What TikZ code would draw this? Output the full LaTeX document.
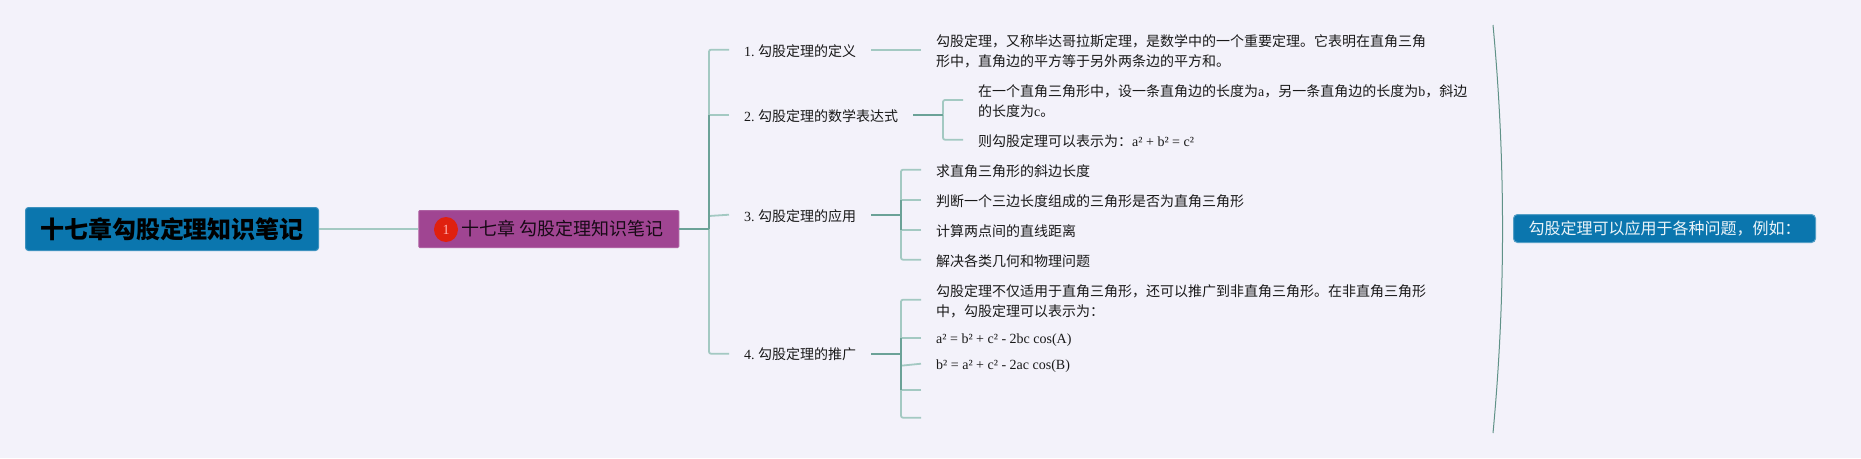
\documentclass[tikz,border=0pt]{standalone}
\usepackage{fontspec}
\usepackage{tikz}
\usetikzlibrary{shapes.geometric}
\setmainfont{Liberation Serif}
\newfontfamily\cjk{Noto Sans CJK SC}
\frenchspacing
\definecolor{pagebg}{HTML}{F3F2FA}
\definecolor{wirelight}{HTML}{A3C9C2}
\definecolor{wiredark}{HTML}{6BA297}
\definecolor{boxblue}{HTML}{0B76AE}
\definecolor{boxpurple}{HTML}{A04592}
\definecolor{badgered}{HTML}{E0200F}
\tikzset{
  branch/.style={draw=wirelight, line width=1.8pt, rounded corners=2pt},
  stem/.style={draw=wiredark, line width=2pt},
  rootbox/.style={draw=boxblue!80!white, fill=boxblue, rounded corners=3pt, line width=1pt, minimum width=293pt, minimum height=43pt, inner sep=0pt, font=\cjk\bfseries\fontsize{24}{28}\selectfont},
  topicbox/.style={draw=boxpurple!85!white, fill=boxpurple, rounded corners=1pt, line width=1pt, minimum width=260pt, minimum height=37pt, inner sep=0pt, text=black!85!boxpurple, font=\cjk\fontsize{18}{22}\selectfont},
  notebox/.style={draw=boxblue!70!white, fill=boxblue, rounded corners=4pt, line width=1pt, minimum width=302pt, minimum height=28pt, inner sep=0pt, text=white!92!boxblue, font=\cjk\fontsize{16}{20}\selectfont},
  badge/.style={ellipse, fill=badgered, minimum width=24pt, minimum height=25pt, inner sep=0pt, text=red!30!white, font=\fontsize{14}{16}\selectfont},
  topic/.style={anchor=west, inner xsep=15pt, inner ysep=0pt, text=black!90, align=left, font=\fontsize{14}{20}\selectfont},
}

\begin{document}
\begin{tikzpicture}[
  x=1pt,
  y=-1pt
]
\useasboundingbox (0,0) rectangle (1861,458);
\fill[pagebg] (0,0) rectangle (1861,458);

\node[rootbox] (root) at (172,229) {十七章勾股定理知识笔记};
\node[topicbox] (main) at (548.75,229) {\hspace{27.5pt}十七章 勾股定理知识笔记};
\node[badge] (mark) at (446,229.5) {1};
\node[notebox] (note) at (1664.5,228.5) {勾股定理可以应用于各种问题，例如：};

\node[topic] (def) at (729,51) {1. {\cjk 勾股定理的定义}};
\node[topic] (formula) at (729,116) {2. {\cjk 勾股定理的数学表达式}};
\node[topic] (usage) at (729,216) {3. {\cjk 勾股定理的应用}};
\node[topic] (ext) at (729,354.3) {4. {\cjk 勾股定理的推广}};

\node[topic] (defa) at (921,51.7) {{\cjk 勾股定理，又称毕达哥拉斯定理，是数学中的一个重要定理。它表明在直角三角}\\{\cjk 形中，直角边的平方等于另外两条边的平方和。}};
\node[topic] (forma) at (963,101) {{\cjk 在一个直角三角形中，设一条直角边的长度为}a{\cjk ，另一条直角边的长度为}b{\cjk ，斜边}\\{\cjk 的长度为}c{\cjk 。}};
\node[topic] (formb) at (963,140.7) {{\cjk 则勾股定理可以表示为：}a² + b² = c²};
\node[topic] (usea) at (921,170.7) {{\cjk 求直角三角形的斜边长度}};
\node[topic] (useb) at (921,200.7) {{\cjk 判断一个三边长度组成的三角形是否为直角三角形}};
\node[topic] (usec) at (921,230.7) {{\cjk 计算两点间的直线距离}};
\node[topic] (used) at (921,260.7) {{\cjk 解决各类几何和物理问题}};
\node[topic] (exta) at (921,301) {{\cjk 勾股定理不仅适用于直角三角形，还可以推广到非直角三角形。在非直角三角形}\\{\cjk 中，勾股定理可以表示为：}};
\node[topic] (extb) at (921,339.7) {a² = b² + c² - 2bc cos(A)};
\node[topic] (extc) at (921,365.7) {b² = a² + c² - 2ac cos(B)};
\coordinate (extd) at (921,389.7);
\coordinate (exte) at (921,417.7);

\coordinate (trunk) at (709,229);
\coordinate (trunkb) at (709,114.7);
\coordinate (forkb) at (943,114.7);
\coordinate (forkc) at (901,214.7);
\coordinate (forkcb) at (901,199.7);
\coordinate (forkcc) at (901,229.7);
\coordinate (forkd) at (901,353.7);
\coordinate (forkdb) at (901,337.7);
\coordinate (forkdd) at (901,389.7);
\coordinate (curvetop) at (1493,25);
\coordinate (curvebot) at (1493,433);

\draw[branch] (root.east) -- (main.west);
\draw[branch] ([yshift=1.3pt]def.west) -| (trunk);
\draw[branch] ([yshift=1.3pt]formula.west) -- (trunkb);
\draw[branch] ([yshift=1.3pt]usage.west) -- (usage.west -| trunk);
\draw[branch] ([yshift=0.6pt]ext.west) -| (trunk);
\draw[stem] (main.east) -- (trunk);
\draw[stem] (trunkb) -- (trunk);

\draw[branch] ([yshift=1.3pt]def.east) -- ([yshift=2pt]defa.west);
\draw[branch] ([yshift=1pt]forma.west) -| (forkb);
\draw[branch] ([yshift=1pt]formb.west) -| (forkb);
\draw[stem] ([yshift=1.3pt]formula.east) -- (forkb);

\draw[branch] ([yshift=1pt]usea.west) -| (forkc);
\draw[branch] ([yshift=1pt]useb.west) -- (forkcb);
\draw[branch] ([yshift=1pt]usec.west) -- (forkcc);
\draw[branch] ([yshift=1pt]used.west) -| (forkc);
\draw[stem] ([yshift=1.3pt]usage.east) -- (forkc);
\draw[stem] (forkcb) -- (forkcc);

\draw[branch] ([yshift=1.3pt]exta.west) -| (forkd);
\draw[branch] ([yshift=2pt]extb.west) -- (forkdb);
\draw[branch] ([yshift=2pt]extc.west) -- (extc.west -| forkd);
\draw[branch] (extd) -- (forkdd);
\draw[branch] (exte) -| (forkd);
\draw[stem] ([yshift=0.6pt]ext.east) -- (forkd);
\draw[stem] (forkdb) -- (forkdd);

\draw[wiredark!90!black, line width=1pt] (curvetop) .. controls (1505.7,160) and (1505.7,298) .. (curvebot);
\end{tikzpicture}
\end{document}
